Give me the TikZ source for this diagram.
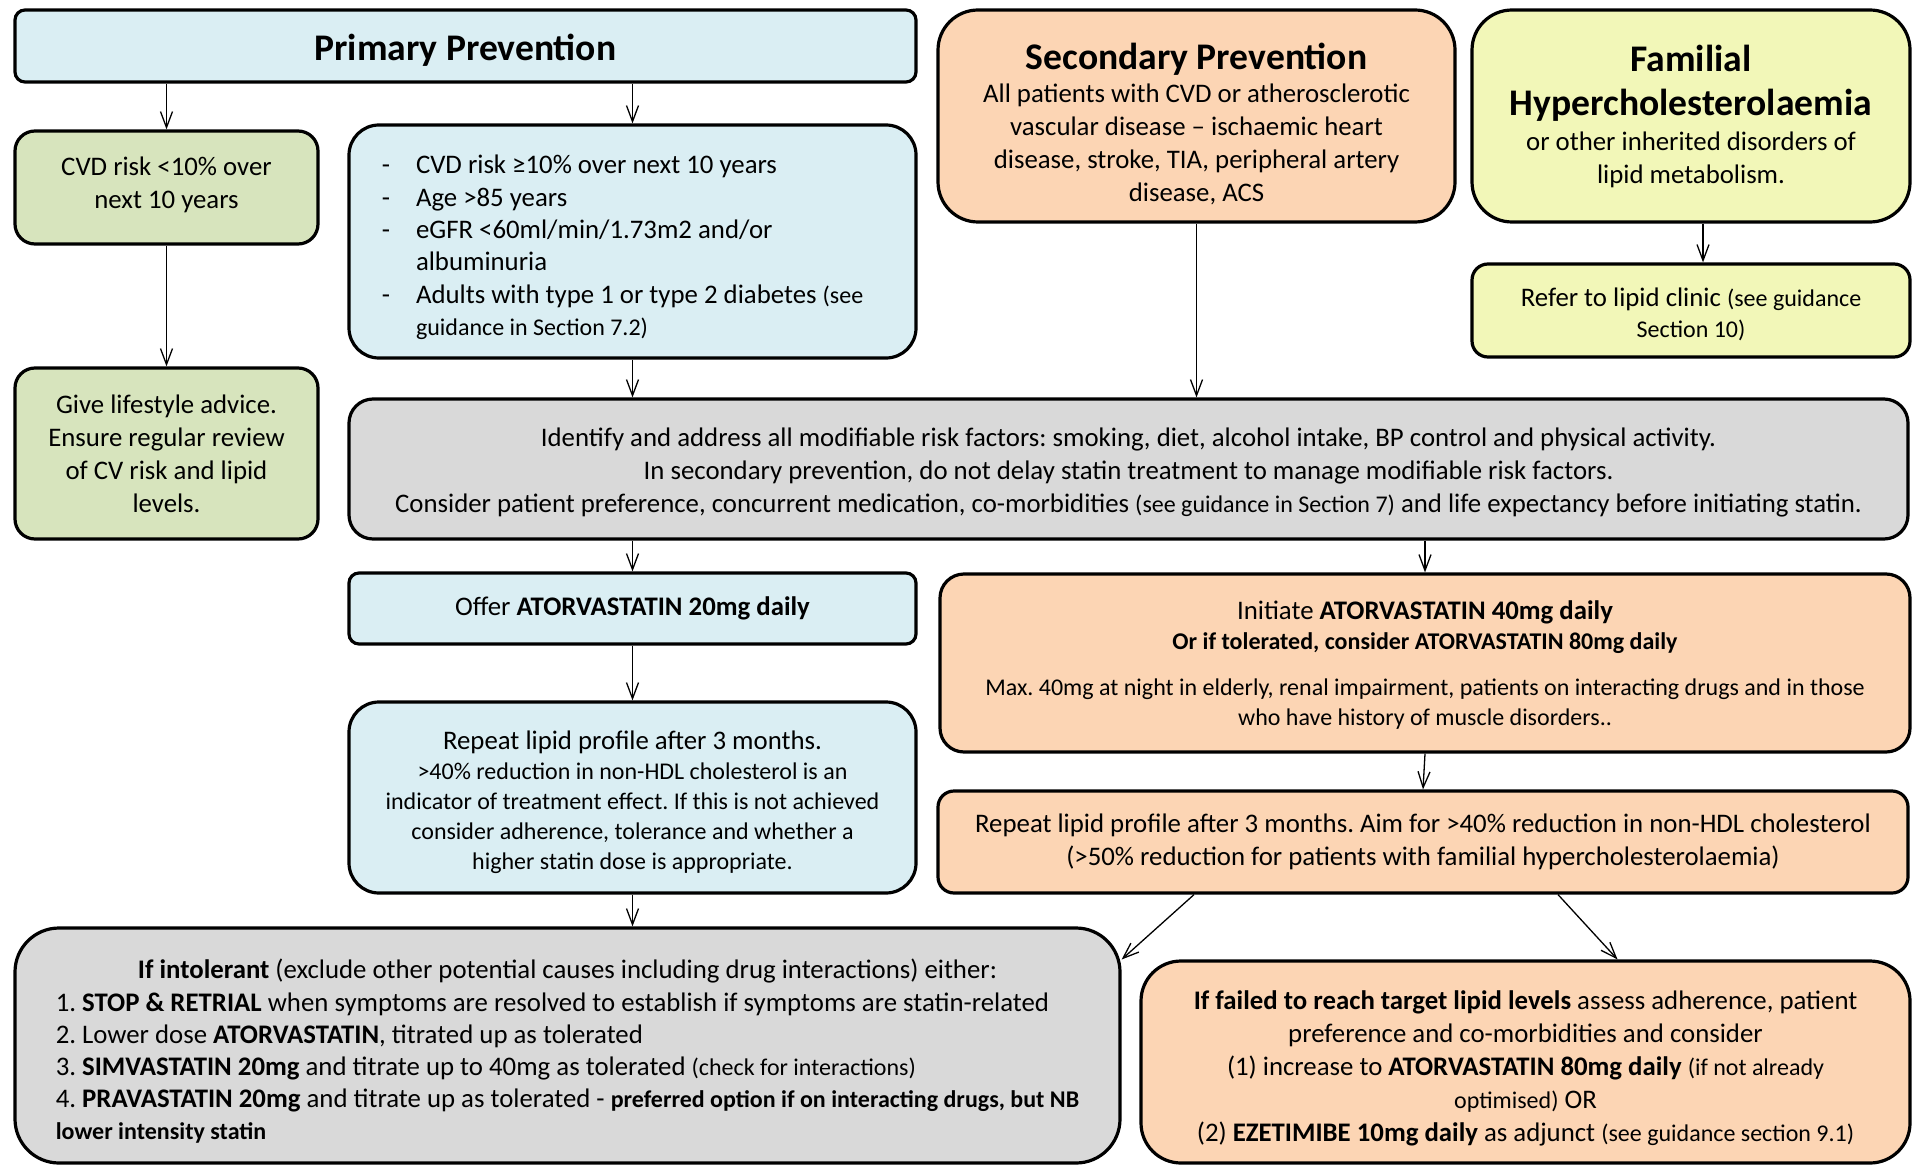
\documentclass[tikz,border=0pt]{standalone}
\usepackage{fontspec}
\setmainfont{Carlito}
\usetikzlibrary{arrows.meta}
\definecolor{cblue}{HTML}{DAEEF3}
\definecolor{cgreen}{HTML}{D7E4BD}
\definecolor{corange}{HTML}{FCD5B4}
\definecolor{cyellow}{HTML}{F2F7B8}
\definecolor{cgrey}{HTML}{D9D9D9}
\frenchspacing
\newcommand\bodyfont{\fontsize{13.4}{16.5}\selectfont\frenchspacing}
\newcommand\smfont{\fontsize{12}{15}\selectfont}
\newcommand\titlefont{\fontsize{18.8}{22}\selectfont\bfseries}
% lower/raise a centred block of lines without changing its size
\newcommand\shiftbox[2]{\raisebox{#1}[\height][\depth]{\begin{tabular}{@{}c@{}}#2\end{tabular}}}
\begin{document}
\begin{tikzpicture}[x=0.5pt,y=-0.5pt,
  box/.style={draw=black, line width=1.6pt, align=center, inner sep=0pt, font=\bodyfont},
  sz/.style 2 args={minimum width=#1*0.5pt, minimum height=#2*0.5pt},
  arr/.style={line width=0.65pt, -{Straight Barb[length=8pt,width=6pt]}}]
\useasboundingbox (0,0) rectangle (1915,1166);

% top row
\node[box, fill=cblue, sz={901}{72}, rounded corners=5pt] (pp) at (465.5,46)
  {\rule{0pt}{17pt}\titlefont Primary Prevention};
\node[box, fill=corange, sz={517}{212}, rounded corners=20pt] (sec) at (1196.5,116)
  {\rule{0pt}{21.6pt}{\titlefont Secondary Prevention}\\[0pt]
   All patients with CVD or atherosclerotic\\
   vascular disease – ischaemic heart\\
   disease, stroke, TIA, peripheral artery\\
   disease, ACS};
\node[box, fill=cyellow, sz={438}{212}, rounded corners=20pt] (fh) at (1691,116)
  {{\titlefont Familial}\\[5.5pt]{\titlefont Hypercholesterolaemia}\\[1pt]
   or other inherited disorders of\\lipid metabolism.};

% second row
\node[box, fill=cgreen, sz={303}{113}, rounded corners=10pt] (low) at (166.5,187.5)
  {\shiftbox{1.2pt}{CVD risk <10\% over\\next 10 years}};
\node[box, fill=cblue, sz={567}{233}, rounded corners=15pt, align=left] (high) at (632.5,241.5)
  {\fontsize{13.4}{16.2}\selectfont\raisebox{-3.4pt}[\height][\depth]{%
   \begin{tabular}{@{}l@{\hspace{13pt}}l@{\hspace{10pt}}}
   - & CVD risk ≥10\% over next 10 years\\
   - & Age >85 years\\
   - & eGFR <60ml/min/1.73m2 and/or\\
     & albuminuria\\
   - & Adults with type 1 or type 2 diabetes {\smfont(see}\\
     & {\smfont guidance in Section 7.2)}
   \end{tabular}}};
\node[box, fill=cyellow, sz={438}{93}, rounded corners=8pt] (ref) at (1691,310.5)
  {\shiftbox{-2.4pt}{Refer to lipid clinic {\smfont (see guidance}\\[-1.2pt]{\smfont Section 10)}}};
\node[box, fill=cgreen, sz={303}{171}, rounded corners=10pt] (life) at (166.5,453.5)
  {Give lifestyle advice.\\Ensure regular review\\of CV risk and lipid\\levels.};

% grey box
\node[box, fill=cgrey, sz={1559}{140}, rounded corners=12pt] (grey) at (1128.5,469)
  {\shiftbox{-1.8pt}{Identify and address all modifiable risk factors: smoking, diet, alcohol intake, BP control and physical activity.\\
   In secondary prevention, do not delay statin treatment to manage modifiable risk factors.\\
   Consider patient preference, concurrent medication, co-morbidities {\smfont(see guidance in Section 7)} and life expectancy before initiating statin.}};

% treatment row
\node[box, fill=cblue, sz={567}{71}, rounded corners=5pt] (offer) at (632.5,608.5)
  {Offer \textbf{ATORVASTATIN 20mg daily}};
\node[box, fill=corange, sz={970}{178}, rounded corners=12pt] (init) at (1425,663)
  {\shiftbox{-1.5pt}{Initiate \textbf{ATORVASTATIN 40mg daily}\\[-1.5pt]
   {\smfont\bfseries Or if tolerated, consider ATORVASTATIN 80mg daily}\\[6.5pt]
   {\smfont Max. 40mg at night in elderly, renal impairment, patients on interacting drugs and in those}\\[-1.5pt]
   {\smfont who have history of muscle disorders..}}};
\node[box, fill=cblue, sz={567}{191}, rounded corners=15pt] (rep1) at (632.5,797.5)
  {\shiftbox{-2.6pt}{Repeat lipid profile after 3 months.\\[-1.5pt]
   {\smfont >40\% reduction in non-HDL cholesterol is an}\\[-1.5pt]
   {\smfont indicator of treatment effect. If this is not achieved}\\[-1.5pt]
   {\smfont consider adherence, tolerance and whether a}\\[-1.5pt]
   {\smfont higher statin dose is appropriate.}}};
\node[box, fill=corange, sz={970}{102}, rounded corners=8pt] (rep2) at (1423,842)
  {Repeat lipid profile after 3 months. Aim for >40\% reduction in non-HDL cholesterol\\
   (>50\% reduction for patients with familial hypercholesterolaemia)};

% bottom row
\node[box, fill=cgrey, sz={1105}{235}, rounded corners=22pt, align=left] (intol) at (567.5,1045.5)
  {\fontsize{13.4}{16.1}\selectfont\raisebox{-3.7pt}[\height][\depth]{%
   \begin{tabular}{@{}l@{}}
   \multicolumn{1}{@{}c@{}}{\textbf{If intolerant} (exclude other potential causes including drug interactions) either:}\\
   1. \textbf{STOP \& RETRIAL} when symptoms are resolved to establish if symptoms are statin-related\\
   2. Lower dose \textbf{ATORVASTATIN}, titrated up as tolerated\\
   3. \textbf{SIMVASTATIN 20mg} and titrate up to 40mg as tolerated {\smfont(check for interactions)}\\
   4. \textbf{PRAVASTATIN 20mg} and titrate up as tolerated - {\smfont\bfseries preferred option if on interacting drugs, but NB}\\
   {\smfont\bfseries lower intensity statin}
   \end{tabular}}};
\node[box, fill=corange, sz={769}{202}, rounded corners=20pt] (fail) at (1525.5,1062)
  {\shiftbox{-3.4pt}{\textbf{If failed to reach target lipid levels} assess adherence, patient\\
   preference and co-morbidities and consider\\
   (1) increase to \textbf{ATORVASTATIN 80mg daily} {\smfont(if not already}\\
   {\smfont optimised)} OR\\
   (2) \textbf{EZETIMIBE 10mg daily} as adjunct {\smfont(see guidance section 9.1)}}};

% connectors
\draw[arr] (pp.south -| low.north) -- (low.north);
\draw[arr] (pp.south -| high.north) -- (high.north);
\draw[arr] (low.south) -- (life.north);
\draw[arr] ([xshift=6pt]fh.south) -- ([xshift=6pt]ref.north);
\draw[arr] (high.south) -- (high.south |- grey.north);
\draw[arr] (sec.south) -- (sec.south |- grey.north);
\draw[arr] (offer.north |- grey.south) -- (offer.north);
\draw[arr] (init.north |- grey.south) -- (init.north);
\draw[arr] (offer.south) -- (rep1.north);
\draw[arr] (init.south) -- (rep2.north);
\draw[arr] (rep1.south) -- (rep1.south |- intol.north);
\draw[arr] ([xshift=-114.5pt]rep2.south) -- ([yshift=43pt]intol.east);
\draw[arr] ([xshift=67.5pt]rep2.south) -- ([xshift=46pt]fail.north);
\end{tikzpicture}
\end{document}
